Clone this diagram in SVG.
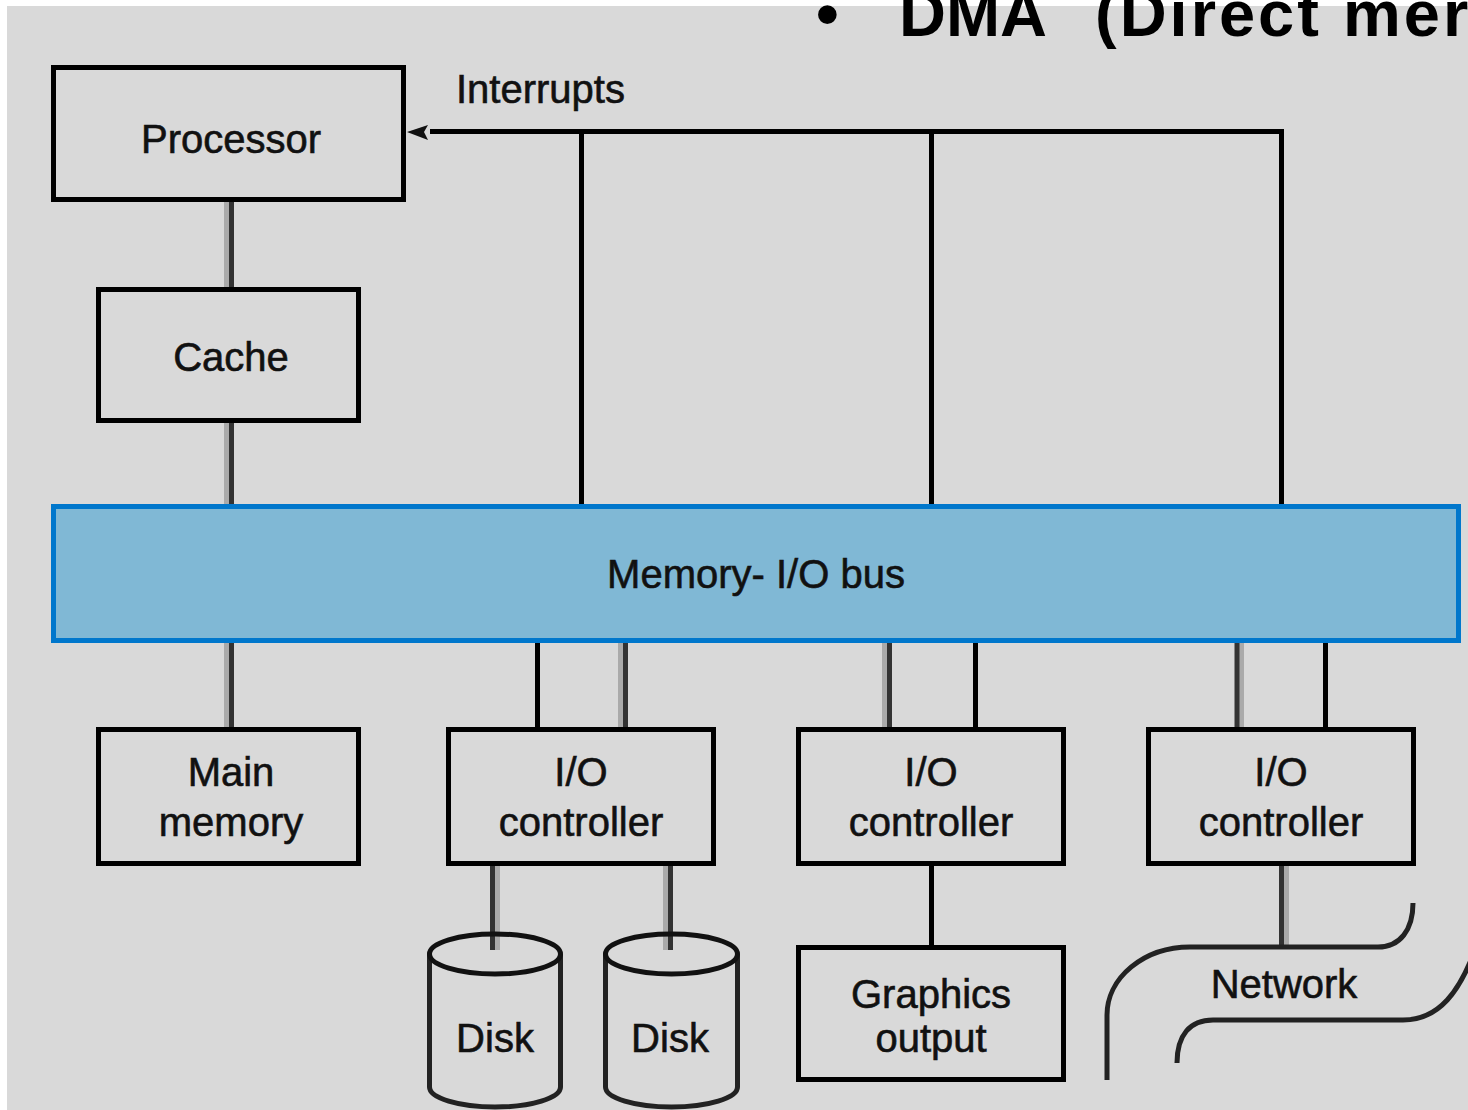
<svg xmlns="http://www.w3.org/2000/svg" width="1468" height="1110" viewBox="0 0 1468 1110">
<style>
  .box{fill:none;stroke:#000;stroke-width:5}
  .lbl{font-family:"Liberation Sans",Arial,sans-serif;font-size:40px;fill:#111;stroke:#111;stroke-width:0.6;text-anchor:middle}
  .ln{stroke:#333;stroke-width:5;fill:none}
  .blk{stroke:#000;stroke-width:5;fill:none}
  .sh{stroke:#aaa;stroke-width:5;fill:none}
  .title{font-family:"Liberation Sans",Arial,sans-serif;font-size:65px;font-weight:bold;fill:#000}
</style>
<rect x="0" y="0" width="1468" height="1110" fill="#fff"/>
<rect x="7" y="6" width="1461" height="1104" fill="#d9d9d9"/>
<g id="title">
  <text class="title" x="816" y="36">•</text>
  <text class="title" x="899" y="36">DMA</text>
  <text class="title" x="1095" y="36" style="letter-spacing:3px">(Direct mer</text>
</g>
<g id="connectors">
  <line class="sh" x1="226.5" y1="202" x2="226.5" y2="287"/>
  <line class="ln" x1="231.5" y1="202" x2="231.5" y2="287"/>
  <line class="sh" x1="226.5" y1="423" x2="226.5" y2="504"/>
  <line class="ln" x1="231.5" y1="423" x2="231.5" y2="504"/>
  <polyline class="blk" points="430,131.5 1281.5,131.5 1281.5,504"/>
  <line class="blk" x1="581.5" y1="131.5" x2="581.5" y2="504"/>
  <line class="blk" x1="931.5" y1="131.5" x2="931.5" y2="504"/>
  <polygon points="407,132 428,125 424,132 428,140" fill="#111"/>
  <line class="sh" x1="226.5" y1="643" x2="226.5" y2="727"/>
  <line class="ln" x1="231.5" y1="643" x2="231.5" y2="727"/>
  <line class="blk" x1="537.5" y1="643" x2="537.5" y2="727"/>
  <line class="sh" x1="620.5" y1="643" x2="620.5" y2="727"/>
  <line class="ln" x1="625.5" y1="643" x2="625.5" y2="727"/>
  <line class="sh" x1="884.5" y1="643" x2="884.5" y2="727"/>
  <line class="ln" x1="889.5" y1="643" x2="889.5" y2="727"/>
  <line class="blk" x1="975.5" y1="643" x2="975.5" y2="727"/>
  <line class="sh" x1="1241.5" y1="643" x2="1241.5" y2="727"/>
  <line class="ln" x1="1237" y1="643" x2="1237" y2="727"/>
  <line class="blk" x1="1325.5" y1="643" x2="1325.5" y2="727"/>
  <line class="sh" x1="497.5" y1="866" x2="497.5" y2="950"/>
  <line class="ln" x1="492.5" y1="866" x2="492.5" y2="950"/>
  <line class="sh" x1="665.5" y1="866" x2="665.5" y2="950"/>
  <line class="ln" x1="670.5" y1="866" x2="670.5" y2="950"/>
  <line class="blk" x1="931.5" y1="866" x2="931.5" y2="945"/>
  <line class="sh" x1="1286.5" y1="866" x2="1286.5" y2="946"/>
  <line class="ln" x1="1281.5" y1="866" x2="1281.5" y2="946"/>
</g>
<g id="processor">
  <rect class="box" x="53.5" y="67.5" width="350" height="132"/>
  <text class="lbl" x="231" y="153">Processor</text>
</g>
<g id="interrupts-label">
  <text class="lbl" x="456" y="103" style="text-anchor:start">Interrupts</text>
</g>
<g id="cache">
  <rect class="box" x="98.5" y="289.5" width="260" height="131"/>
  <text class="lbl" x="231" y="371">Cache</text>
</g>
<g id="bus">
  <rect x="53.5" y="506.5" width="1405" height="134" fill="#80b8d5" stroke="#0077cc" stroke-width="5"/>
  <text class="lbl" x="756" y="588">Memory- I/O bus</text>
</g>
<g id="main-memory">
  <rect class="box" x="98.5" y="729.5" width="260" height="134"/>
  <text class="lbl" x="231" y="786">Main</text>
  <text class="lbl" x="231" y="836">memory</text>
</g>
<g id="io-controller-1">
  <rect class="box" x="448.5" y="729.5" width="265" height="134"/>
  <text class="lbl" x="581" y="786">I/O</text>
  <text class="lbl" x="581" y="836">controller</text>
</g>
<g id="io-controller-2">
  <rect class="box" x="798.5" y="729.5" width="265" height="134"/>
  <text class="lbl" x="931" y="786">I/O</text>
  <text class="lbl" x="931" y="836">controller</text>
</g>
<g id="io-controller-3">
  <rect class="box" x="1148.5" y="729.5" width="265" height="134"/>
  <text class="lbl" x="1281" y="786">I/O</text>
  <text class="lbl" x="1281" y="836">controller</text>
</g>
<g id="disk-1">
  <path d="M429.5,954 L429.5,1087 A65.5,20 0 0 0 560.5,1087 L560.5,954" fill="none" stroke="#222" stroke-width="5"/>
  <ellipse cx="495" cy="954" rx="65.5" ry="20" fill="none" stroke="#111" stroke-width="5"/>
  <text class="lbl" x="495" y="1052">Disk</text>
</g>
<g id="disk-2">
  <path d="M605.5,954 L605.5,1087 A66,20 0 0 0 737.5,1087 L737.5,954" fill="none" stroke="#222" stroke-width="5"/>
  <ellipse cx="671.5" cy="954" rx="66" ry="20" fill="none" stroke="#111" stroke-width="5"/>
  <text class="lbl" x="670" y="1052">Disk</text>
</g>
<g id="graphics-output">
  <rect class="box" x="798.5" y="947.5" width="265" height="132"/>
  <text class="lbl" x="931" y="1008">Graphics</text>
  <text class="lbl" x="931" y="1052">output</text>
</g>
<g id="network">
  <path d="M1413,903 C1413,930 1400,947 1378,947 L1190,947 A83,68 0 0 0 1107,1015 L1107,1080" fill="none" stroke="#222" stroke-width="5"/>
  <path d="M1475,950 C1460,990 1440,1020 1403,1020 L1213,1020 C1190,1020 1177,1035 1177,1063" fill="none" stroke="#222" stroke-width="5"/>
  <text class="lbl" x="1284" y="998">Network</text>
</g>
</svg>
